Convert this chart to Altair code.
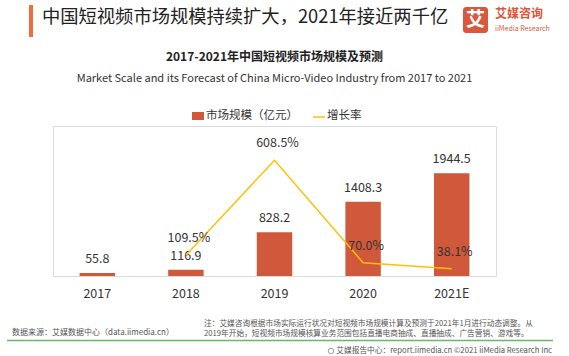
import altair as alt
import pandas as pd

# ---- data ----
years = ["2017", "2018", "2019", "2020", "2021E"]
market = [55.8, 116.9, 828.2, 1408.3, 1944.5]
growth = [None, 109.5, 608.5, 70.0, 38.1]

title_text = "中国短视频市场规模持续扩大，2021年接近两千亿"
sub_cn = "2017-2021年中国短视频市场规模及预测"
sub_en = "Market Scale and its Forecast of China Micro-Video Industry from 2017 to 2021"
legend_bar = "市场规模（亿元）"
legend_line = "增长率"
source_text = "数据来源：艾媒数据中心（data.iimedia.cn）"
note_line1 = "注：艾媒咨询根据市场实际运行状况对短视频市场规模计算及预测于2021年1月进行动态调整。从"
note_line2 = "2019年开始，短视频市场规模核算业务范围包括直播电商抽成、直播抽成、广告营销、游戏等。"
footer_text = "艾媒报告中心：report.iimedia.cn  ©2021  iiMedia Research  Inc"
logo_cn = "艾媒咨询"
logo_en = "iiMedia Research"
logo_mark = "艾"

FONT = "Noto Sans CJK SC"
BAR = "#D0593B"
LINE = "#FFC000"
LOGO = "#D9573A"

df = pd.DataFrame({"year": years, "market": market, "growth": growth})

W, H = 443, 150

base = alt.Chart(df).encode(
    x=alt.X("year:N", sort=years,
            scale=alt.Scale(paddingInner=0.6, paddingOuter=0.3),
            axis=alt.Axis(title=None, labelAngle=0, ticks=False, domainColor="#D9D9D9",
                          domainWidth=1, labelFontSize=12.5, labelColor="#333333",
                          labelPadding=11, labelFont=FONT, grid=False))
)

ybar = alt.Y("market:Q", scale=alt.Scale(domain=[0, 2841]), axis=None)
ygr = alt.Y("growth:Q", scale=alt.Scale(domain=[0, 789]), axis=None)

bars = base.mark_bar(color=BAR).encode(y=ybar)
bar_text = base.mark_text(font=FONT, fontSize=12.5, color="#333333", baseline="middle", dy=-14).encode(
    y=ybar, text=alt.Text("market:Q", format=".1f"))

gbase = base.transform_filter("datum.growth != null")
line = gbase.mark_line(color=LINE, strokeWidth=1.5).encode(y=ygr)
line_text = gbase.transform_calculate(lbl="format(datum.growth, '.1f') + '%'").mark_text(
    font=FONT, fontSize=12.5, color="#333333", baseline="middle", dy=-17, dx=3).encode(
    y=ygr, text="lbl:N")

one = pd.DataFrame({"t": [0]})


def txt(s, x, y, size, color="#333333", weight="normal", align="left"):
    return alt.Chart(pd.DataFrame({"t": [s]})).mark_text(
        font=FONT, fontSize=size, color=color, fontWeight=weight, align=align, baseline="middle"
    ).encode(x=alt.value(x), y=alt.value(y), text="t:N")


def rect(x, x2, y, y2, color, r=0):
    return alt.Chart(one).mark_rect(color=color, cornerRadius=r).encode(
        x=alt.value(x), x2=alt.value(x2), y=alt.value(y), y2=alt.value(y2))


header = [
    rect(-24, -20, -121, -89, "#F26B3A"),
    txt(title_text, -11, -108, 18.3, color="#222222"),
    rect(410, 435, -119, -93, LOGO, r=3),
    txt(logo_mark, 422.5, -106, 19, color="white", weight="bold", align="center"),
    txt(logo_cn, 442, -112, 12, color=LOGO, weight="bold"),
    txt(logo_en, 442, -97.5, 7, color=LOGO),
    txt(sub_cn, W / 2, -69, 12, color="#222222", weight="bold", align="center"),
    txt(sub_en, W / 2, -47, 11, color="#333333", align="center"),
    rect(139, 151, -14, -6, BAR),
    txt(legend_bar, 153, -10, 11.5),
    alt.Chart(one).mark_rule(color=LINE, strokeWidth=1.5).encode(
        x=alt.value(260), x2=alt.value(272), y=alt.value(-9)),
    txt(legend_line, 274, -10, 11.5),
    txt(source_text, -41, 207, 8, color="#555555"),
    txt(note_line1, 151, 198, 7.7, color="#555555"),
    txt(note_line2, 151, 208, 7.7, color="#555555"),
    alt.Chart(one).mark_rule(color="#6DB26D", strokeWidth=1.5).encode(
        x=alt.value(-46), x2=alt.value(500), y=alt.value(214.5)),
    alt.Chart(one).mark_point(shape="circle", size=30, color="#777777", strokeWidth=1).encode(
        x=alt.value(278), y=alt.value(225)),
    txt(footer_text, 499, 225, 7.7, color="#555555", align="right"),
]

chart = alt.layer(bars, bar_text, line, line_text, *header).resolve_scale(
    y="independent"
).properties(
    width=W, height=H,
    autosize=alt.AutoSizeParams(type="none"),
    padding={"left": 53, "top": 126, "right": 73, "bottom": 80},
).configure_view(stroke=None).configure(background="white")

chart.save("out.html", embed_options={"renderer": "svg", "actions": False})
